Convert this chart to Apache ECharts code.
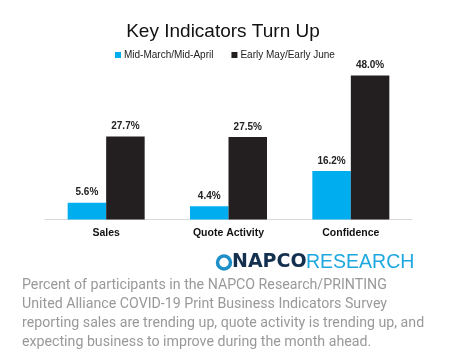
<!DOCTYPE html>
<html><head><meta charset="utf-8">
<script src="https://cdn.jsdelivr.net/npm/echarts@6/dist/echarts.min.js"></script>
<style>html,body{margin:0;padding:0;background:#fff}#c{width:466px;height:363px}</style>
</head><body><div id="c"></div>
<script>
const categories = ['Sales', 'Quote Activity', 'Confidence'];
const seriesNames = ['Mid-March/Mid-April', 'Early May/Early June'];
const midMarchApril = [5.6, 4.4, 16.2];
const earlyMayJune = [27.7, 27.5, 48.0];
const captionLines = [
  'Percent of participants in the NAPCO Research/PRINTING',
  'United Alliance COVID-19 Print Business Indicators Survey',
  'reporting sales are trending up, quote activity is trending up, and',
  'expecting business to improve during the month ahead.'
];

const chart = echarts.init(document.getElementById('c'), null, {renderer: 'canvas'});
const labelCfg = {show: true, position: 'top', formatter: p => p.value.toFixed(1) + '%',
  color: '#222', fontWeight: 'bold', fontSize: 10, fontFamily: 'Liberation Sans, Arial', distance: 5};
chart.setOption({
  animation: false,
  backgroundColor: '#fff',
  title: {text: 'Key Indicators Turn Up', left: 218, textAlign: 'center', top: 17,
    textStyle: {fontSize: 19, fontWeight: 'normal', color: '#111', fontFamily: 'Liberation Sans, Arial'}},
  legend: {top: 45, left: 110, itemWidth: 6, itemHeight: 6, itemGap: 18, icon: 'rect',
    textStyle: {fontSize: 10, color: '#222', fontFamily: 'Liberation Sans, Arial', padding: [0, 0, 0, -2]},
    data: seriesNames},
  grid: {left: 45, right: 54, top: 69.5, bottom: 143.5},
  xAxis: {type: 'category', data: categories,
    axisLine: {lineStyle: {color: '#d9d9d9', width: 1}}, axisTick: {show: false},
    axisLabel: {color: '#111', fontWeight: 'bold', fontSize: 10.5, fontFamily: 'Liberation Sans, Arial', margin: 8}},
  yAxis: {type: 'value', min: 0, max: 50, show: false, splitLine: {show: false}},
  series: [
    {name: seriesNames[0], type: 'bar', data: midMarchApril, barWidth: 38.5, barGap: '0%',
      itemStyle: {color: '#00AEEF'}, label: labelCfg},
    {name: seriesNames[1], type: 'bar', data: earlyMayJune, barWidth: 38.5, barGap: '0%',
      itemStyle: {color: '#231F20'}, label: labelCfg}
  ],
  graphic: [
    {type: 'circle', shape: {cx: 224, cy: 262.5, r: 6.5}, style: {fill: 'none', stroke: '#1E90C8', lineWidth: 3.5}},
    {type: 'text', left: 232, top: 253, style: {text: 'NAPCO', fontSize: 19, fontWeight: 'bold',
      fontFamily: 'DejaVu Sans', fill: '#14304F', letterSpacing: -1.2}},
    {type: 'text', left: 306, top: 253, style: {text: 'RESEARCH', fontSize: 19.5, fontWeight: 'normal',
      fontFamily: 'Liberation Sans, Arial', fill: '#1FA8E0'}},
    {type: 'text', left: 22, top: 276, style: {text: captionLines.join('\n'), fontSize: 14.2, lineHeight: 19,
      fontFamily: 'Roboto', fill: '#999'}}
  ]
});
</script></body></html>
